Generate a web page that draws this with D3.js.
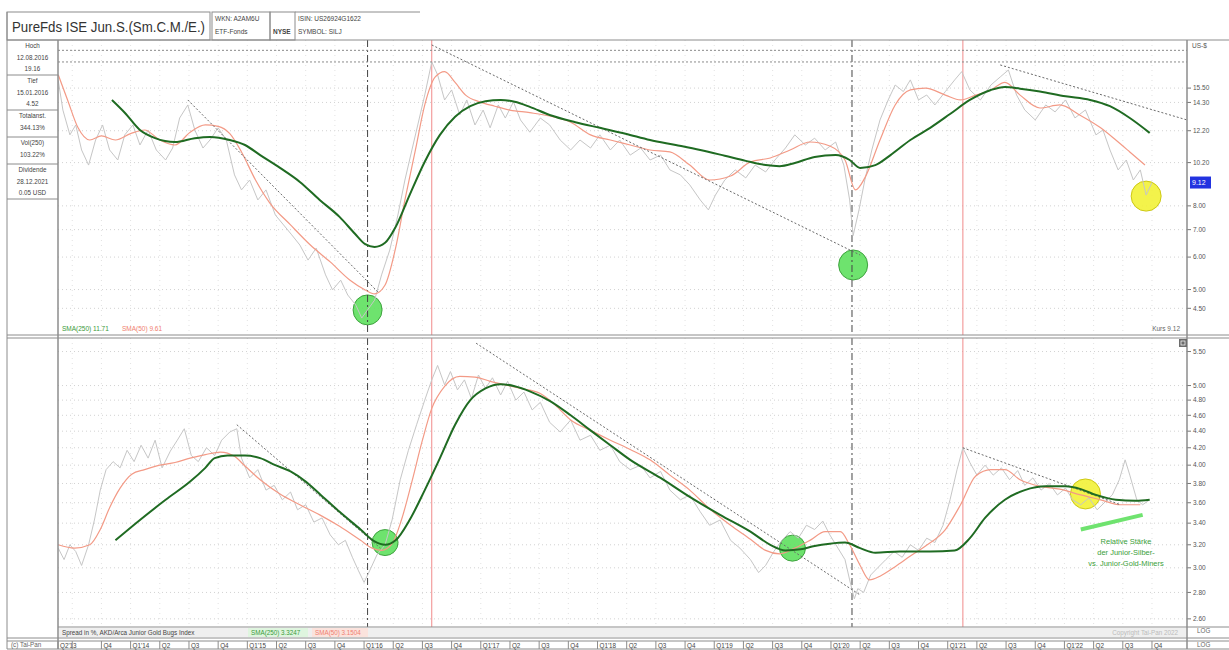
<!DOCTYPE html>
<html>
<head>
<meta charset="utf-8">
<script src="https://cdn.jsdelivr.net/npm/d3@7"></script>
<style>
  body { margin: 0; background: #fff; }
  svg text { font-family: "Liberation Sans", Arial, sans-serif; }
</style>
</head>
<body>
<svg id="chart" width="1229" height="650"></svg>
<script>
// ---- data (time as decimal year, values in US-$ / ratio) ----
const kursOben = [[2013.38,16.2],[2013.42,13.7],[2013.48,11.92],[2013.53,12.6],[2013.58,10.95],[2013.64,10.06],[2013.70,11.58],[2013.76,12.6],[2013.82,10.95],[2013.89,10.35],[2013.95,11.92],[2014.02,12.6],[2014.08,11.26],[2014.15,12.25],[2014.22,10.95],[2014.30,10.35],[2014.36,11.07],[2014.42,13.1],[2014.49,14.1],[2014.55,12.25],[2014.62,11.07],[2014.68,11.58],[2014.75,12.4],[2014.82,11.58],[2014.89,9.52],[2014.95,8.75],[2015.02,9.25],[2015.09,8.27],[2015.16,8.75],[2015.24,7.6],[2015.31,7.19],[2015.38,6.8],[2015.45,6.42],[2015.52,5.9],[2015.59,6.31],[2015.67,5.43],[2015.73,4.99],[2015.80,5.27],[2015.86,4.85],[2015.93,4.58],[2015.98,4.26],[2016.03,4.46],[2016.09,4.71],[2016.15,5.43],[2016.22,6.24],[2016.29,7.6],[2016.35,9.25],[2016.41,10.95],[2016.46,12.6],[2016.52,14.91],[2016.58,17.95],[2016.63,16.7],[2016.69,14.5],[2016.75,15.34],[2016.82,13.33],[2016.88,14.5],[2016.95,12.6],[2017.02,13.7],[2017.08,12.4],[2017.15,14.1],[2017.21,13.1],[2017.28,14.35],[2017.34,12.96],[2017.42,12.1],[2017.51,13.1],[2017.59,12.6],[2017.68,11.58],[2017.77,10.95],[2017.85,11.58],[2017.94,11.07],[2018.02,11.92],[2018.11,10.95],[2018.19,11.58],[2018.28,10.64],[2018.37,11.07],[2018.45,10.35],[2018.54,10.64],[2018.62,9.79],[2018.71,9.52],[2018.79,9.0],[2018.88,8.27],[2018.95,7.82],[2019.01,8.5],[2019.09,9.25],[2019.18,9.79],[2019.27,9.36],[2019.35,10.06],[2019.44,9.68],[2019.52,10.35],[2019.61,11.07],[2019.69,11.92],[2019.78,11.26],[2019.86,11.7],[2019.95,10.95],[2020.04,11.45],[2020.11,10.06],[2020.16,8.27],[2020.19,6.77],[2020.24,7.82],[2020.29,9.25],[2020.35,10.95],[2020.42,12.96],[2020.49,14.5],[2020.55,15.77],[2020.62,15.2],[2020.68,16.23],[2020.75,14.5],[2020.82,14.91],[2020.89,14.1],[2020.98,15.2],[2021.06,16.23],[2021.12,17.0],[2021.19,15.34],[2021.28,14.5],[2021.37,15.77],[2021.45,16.5],[2021.52,17.16],[2021.59,14.91],[2021.66,13.71],[2021.75,12.96],[2021.84,14.1],[2021.92,13.56],[2022.01,14.5],[2022.09,13.11],[2022.18,13.71],[2022.27,11.92],[2022.33,12.25],[2022.39,10.95],[2022.46,9.79],[2022.53,10.35],[2022.59,9.25],[2022.65,9.79],[2022.70,8.5],[2022.75,9.12]];

const sma50Oben = [[2013.38,16.7],[2013.46,14.5],[2013.55,12.4],[2013.65,11.58],[2013.75,11.85],[2013.87,11.58],[2014.00,12.0],[2014.12,12.25],[2014.25,11.58],[2014.38,11.26],[2014.51,12.1],[2014.64,12.6],[2014.75,12.5],[2014.85,12.0],[2014.95,10.83],[2015.07,9.25],[2015.19,8.15],[2015.37,7.19],[2015.54,6.42],[2015.71,5.84],[2015.88,5.27],[2016.01,4.99],[2016.09,4.88],[2016.18,5.13],[2016.27,6.31],[2016.35,8.27],[2016.44,10.95],[2016.52,14.1],[2016.61,16.5],[2016.69,17.0],[2016.78,16.0],[2016.87,14.9],[2016.99,14.35],[2017.12,14.0],[2017.25,13.7],[2017.42,13.5],[2017.59,13.25],[2017.77,12.8],[2017.94,11.92],[2018.11,11.58],[2018.28,11.26],[2018.45,10.95],[2018.62,10.83],[2018.79,10.06],[2018.96,9.25],[2019.14,9.46],[2019.31,10.24],[2019.48,10.47],[2019.65,10.95],[2019.82,11.45],[2019.99,11.2],[2020.12,10.35],[2020.21,8.75],[2020.29,9.36],[2020.42,11.58],[2020.55,14.1],[2020.68,15.34],[2020.81,15.5],[2020.98,14.9],[2021.11,14.5],[2021.24,14.9],[2021.37,15.34],[2021.49,16.0],[2021.62,14.9],[2021.79,13.86],[2021.96,14.1],[2022.13,13.33],[2022.31,12.4],[2022.44,11.58],[2022.56,10.83],[2022.69,10.06]];

const sma250Oben = [[2013.84,14.5],[2013.95,13.5],[2014.08,12.25],[2014.21,11.7],[2014.38,11.45],[2014.55,11.7],[2014.68,11.78],[2014.85,11.58],[2014.98,11.26],[2015.11,10.64],[2015.28,9.9],[2015.45,9.15],[2015.62,8.27],[2015.79,7.52],[2015.92,6.85],[2016.01,6.45],[2016.09,6.35],[2016.18,6.5],[2016.27,7.1],[2016.39,8.5],[2016.52,10.25],[2016.65,11.92],[2016.78,13.2],[2016.91,14.0],[2017.04,14.4],[2017.17,14.5],[2017.29,14.35],[2017.42,13.95],[2017.59,13.33],[2017.81,12.8],[2018.02,12.4],[2018.24,12.0],[2018.45,11.58],[2018.67,11.26],[2018.88,10.95],[2019.09,10.6],[2019.27,10.3],[2019.44,10.06],[2019.56,10.0],[2019.69,10.18],[2019.86,10.53],[2020.04,10.64],[2020.16,10.35],[2020.25,9.9],[2020.38,10.06],[2020.51,10.64],[2020.68,11.58],[2020.85,12.4],[2021.02,13.4],[2021.19,14.5],[2021.37,15.34],[2021.49,15.6],[2021.62,15.45],[2021.79,15.2],[2022.01,14.8],[2022.22,14.5],[2022.39,14.0],[2022.56,13.1],[2022.73,12.05]];

const kursUnten = [[2013.38,3.17],[2013.43,3.07],[2013.48,3.20],[2013.53,3.14],[2013.58,3.02],[2013.64,3.20],[2013.69,3.43],[2013.74,3.73],[2013.79,3.95],[2013.85,4.04],[2013.91,3.97],[2013.97,4.17],[2014.03,4.04],[2014.09,4.23],[2014.15,4.08],[2014.21,4.29],[2014.27,3.97],[2014.34,4.16],[2014.40,4.29],[2014.46,4.43],[2014.52,4.11],[2014.58,4.04],[2014.65,4.20],[2014.72,4.11],[2014.78,4.29],[2014.85,4.39],[2014.91,4.43],[2014.95,4.08],[2015.02,3.86],[2015.09,3.95],[2015.16,3.73],[2015.23,3.78],[2015.30,3.63],[2015.37,3.71],[2015.43,3.53],[2015.50,3.58],[2015.57,3.41],[2015.64,3.45],[2015.71,3.29],[2015.78,3.20],[2015.84,3.24],[2015.90,3.09],[2015.95,2.98],[2016.00,2.88],[2016.05,2.98],[2016.11,3.11],[2016.18,3.20],[2016.24,3.43],[2016.31,3.84],[2016.38,4.17],[2016.45,4.48],[2016.52,4.80],[2016.58,5.08],[2016.63,5.29],[2016.69,5.01],[2016.74,5.20],[2016.80,4.94],[2016.86,5.08],[2016.92,4.82],[2016.98,5.15],[2017.04,4.96],[2017.10,5.11],[2017.17,4.87],[2017.23,5.06],[2017.30,4.80],[2017.37,4.91],[2017.44,4.67],[2017.51,4.77],[2017.59,4.51],[2017.68,4.39],[2017.77,4.54],[2017.85,4.29],[2017.94,4.35],[2018.02,4.17],[2018.11,4.23],[2018.19,4.04],[2018.28,3.95],[2018.37,4.00],[2018.45,3.86],[2018.54,3.93],[2018.62,3.73],[2018.71,3.63],[2018.79,3.68],[2018.88,3.51],[2018.96,3.38],[2019.05,3.43],[2019.14,3.24],[2019.22,3.17],[2019.31,3.07],[2019.38,2.96],[2019.44,3.02],[2019.51,3.14],[2019.58,3.24],[2019.65,3.32],[2019.72,3.26],[2019.79,3.38],[2019.86,3.34],[2019.93,3.42],[2019.99,3.29],[2020.06,3.17],[2020.12,3.07],[2020.16,2.90],[2020.20,2.75],[2020.23,2.83],[2020.28,2.80],[2020.34,2.94],[2020.40,3.00],[2020.47,3.07],[2020.54,3.14],[2020.61,3.09],[2020.68,3.20],[2020.75,3.15],[2020.82,3.26],[2020.89,3.22],[2020.96,3.38],[2021.02,3.63],[2021.08,3.95],[2021.13,4.20],[2021.19,4.03],[2021.25,3.89],[2021.32,4.00],[2021.39,3.89],[2021.46,3.97],[2021.53,3.84],[2021.60,3.94],[2021.66,3.78],[2021.73,3.86],[2021.80,3.73],[2021.87,3.80],[2021.94,3.68],[2022.01,3.75],[2022.07,3.63],[2022.14,3.58],[2022.21,3.65],[2022.28,3.53],[2022.35,3.61],[2022.41,3.68],[2022.47,3.84],[2022.52,4.06],[2022.56,3.89],[2022.62,3.63],[2022.67,3.58],[2022.73,3.63]];

const sma50Unten = [[2013.38,3.20],[2013.52,3.17],[2013.65,3.20],[2013.74,3.34],[2013.82,3.55],[2013.91,3.75],[2014.01,3.90],[2014.12,3.95],[2014.25,4.00],[2014.38,4.03],[2014.51,4.08],[2014.64,4.12],[2014.77,4.15],[2014.89,4.10],[2014.98,3.99],[2015.11,3.84],[2015.28,3.69],[2015.45,3.58],[2015.62,3.48],[2015.79,3.37],[2015.97,3.24],[2016.07,3.17],[2016.15,3.15],[2016.24,3.21],[2016.32,3.43],[2016.41,3.82],[2016.50,4.29],[2016.58,4.69],[2016.69,4.99],[2016.82,5.13],[2016.95,5.12],[2017.08,5.06],[2017.21,5.01],[2017.34,4.96],[2017.51,4.89],[2017.64,4.73],[2017.77,4.54],[2017.94,4.41],[2018.11,4.29],[2018.28,4.18],[2018.45,4.06],[2018.62,3.89],[2018.79,3.73],[2018.96,3.54],[2019.14,3.38],[2019.31,3.25],[2019.44,3.15],[2019.56,3.12],[2019.69,3.17],[2019.82,3.24],[2019.95,3.32],[2020.08,3.32],[2020.16,3.20],[2020.25,3.02],[2020.33,2.90],[2020.42,2.93],[2020.55,3.01],[2020.68,3.10],[2020.81,3.19],[2020.98,3.34],[2021.11,3.58],[2021.24,3.88],[2021.37,3.95],[2021.49,3.95],[2021.62,3.84],[2021.79,3.77],[2021.96,3.74],[2022.14,3.68],[2022.31,3.63],[2022.48,3.58],[2022.65,3.58]];

const sma250Unten = [[2013.87,3.24],[2014.08,3.43],[2014.30,3.63],[2014.51,3.82],[2014.64,3.97],[2014.72,4.08],[2014.83,4.11],[2014.98,4.11],[2015.11,4.08],[2015.24,4.00],[2015.37,3.93],[2015.50,3.82],[2015.62,3.69],[2015.79,3.51],[2015.97,3.34],[2016.09,3.23],[2016.18,3.20],[2016.27,3.24],[2016.39,3.43],[2016.52,3.73],[2016.65,4.08],[2016.78,4.48],[2016.91,4.80],[2017.04,4.96],[2017.17,5.02],[2017.29,4.99],[2017.42,4.92],[2017.59,4.79],[2017.77,4.60],[2017.94,4.41],[2018.11,4.23],[2018.28,4.06],[2018.54,3.86],[2018.79,3.66],[2019.05,3.48],[2019.31,3.32],[2019.48,3.20],[2019.61,3.15],[2019.74,3.16],[2019.86,3.19],[2019.99,3.21],[2020.12,3.22],[2020.25,3.17],[2020.38,3.13],[2020.59,3.14],[2020.85,3.14],[2021.06,3.15],[2021.19,3.26],[2021.32,3.45],[2021.49,3.63],[2021.66,3.73],[2021.84,3.77],[2022.01,3.77],[2022.14,3.74],[2022.27,3.68],[2022.44,3.63],[2022.61,3.62],[2022.73,3.63]];

const trendOben = [[[2014.49,14.5],[2016.12,4.93]], [[2016.58,19.75],[2020.25,6.07]], [[2021.45,17.65],[2023.05,12.96]]];
const trendUnten = [[[2014.91,4.48],[2016.14,3.17]], [[2016.96,5.63],[2020.25,2.78]], [[2021.13,4.20],[2022.48,3.58]]];
const rsLinie = [[2022.14,3.34],[2022.67,3.48]];

const kreiseOben = [[2016.03,4.46,"g"],[2020.19,5.74,"g"],[2022.70,8.45,"y"]];
const kreiseUnten = [[2016.18,3.22,"g"],[2019.67,3.17,"g"],[2022.18,3.69,"y"]];

const markerSchwarz = [2016.03, 2020.18];
const markerRot = [2016.58, 2021.13];

const ticksOben = [15.5, 14.3, 12.2, 10.2, 8, 7, 6, 5, 4.5];
const ticksUnten = [5.5, 5, 4.8, 4.6, 4.4, 4.2, 4, 3.8, 3.6, 3.4, 3.2, 3, 2.8, 2.6];

const hoch = 19.16;
const infoBoxen = [
  ["Hoch", "12.08.2016", "19.16"],
  ["Tief", "15.01.2016", "4.52"],
  ["Totalanst.", "344.13%"],
  ["Vol(250)", "103.22%"],
  ["Dividende", "28.12.2021", "0.05 USD"]
];

// ---- layout ----
const L = 58, R = 1187;
const svg = d3.select("#chart");

const x = d3.scaleLinear().domain([2013.378, 2023.05]).range([L, R]);
const yTop = d3.scaleLog().domain([3.9, 20]).range([333.8, 42.7]);
const yBot = d3.scaleLog().domain([2.55, 5.7]).range([625.8, 338.8]);

const panels = [
  {id: "oben", y: yTop, top: 40, bottom: 335, ticks: ticksOben, kurs: kursOben, s50: sma50Oben, s250: sma250Oben, trends: trendOben, kreise: kreiseOben},
  {id: "unten", y: yBot, top: 338, bottom: 627, ticks: ticksUnten, kurs: kursUnten, s50: sma50Unten, s250: sma250Unten, trends: trendUnten, kreise: kreiseUnten}
];

const defs = svg.append("defs");
const quarterT = [];
for (let yr = 2013; yr <= 2022; yr++) for (let q = 0; q < 4; q++) {
  const t = yr + q / 4;
  if (t >= 2013.25 && t <= 2022.76) quarterT.push({t, yr, q});
}

panels.forEach(p => {
  defs.append("clipPath").attr("id", "clip-" + p.id)
    .append("rect").attr("x", L).attr("y", p.top).attr("width", R - L).attr("height", p.bottom - p.top);

  const g = svg.append("g").attr("clip-path", `url(#clip-${p.id})`);

  // dotted grid
  g.selectAll(".gh").data(p.ticks).join("line")
    .attr("x1", L).attr("x2", R).attr("y1", d => p.y(d)).attr("y2", d => p.y(d))
    .attr("stroke", "#d2d2d2").attr("stroke-dasharray", "1,3");
  g.selectAll(".gv").data(quarterT.filter(d => d.t > x.domain()[0])).join("line")
    .attr("x1", d => x(d.t)).attr("x2", d => x(d.t)).attr("y1", p.top).attr("y2", p.bottom)
    .attr("stroke", "#e2e2e2").attr("stroke-dasharray", "1,4");

  // circles
  g.selectAll(".kreis").data(p.kreise).join("ellipse")
    .attr("cx", d => x(d[0])).attr("cy", d => p.y(d[1]))
    .attr("rx", d => d[2] === "y" ? 15 : (p.id === "oben" ? 14.5 : 13))
    .attr("ry", d => d[2] === "y" ? 15 : (p.id === "oben" ? 15 : 13))
    .attr("fill", d => d[2] === "y" ? "#f3f23c" : "#62e162")
    .attr("stroke", d => d[2] === "y" ? "#c9c400" : "#2f9b2f")
    .attr("opacity", 0.92);

  // marker verticals
  g.selectAll(".ms").data(markerSchwarz).join("line")
    .attr("x1", d => x(d)).attr("x2", d => x(d)).attr("y1", p.top).attr("y2", p.bottom)
    .attr("stroke", "#444").attr("stroke-dasharray", "7,3,2,3");
  g.selectAll(".mr").data(markerRot).join("line")
    .attr("x1", d => x(d)).attr("x2", d => x(d)).attr("y1", p.top).attr("y2", p.bottom)
    .attr("stroke", "#f08a8a");

  const line = d3.line().x(d => x(d[0])).y(d => p.y(d[1]));
  const smooth = d3.line().x(d => x(d[0])).y(d => p.y(d[1])).curve(d3.curveMonotoneX);

  g.append("path").attr("d", line(p.kurs)).attr("fill", "none").attr("stroke", "#c6c6c6").attr("stroke-width", 1);
  g.append("path").attr("d", smooth(p.s50)).attr("fill", "none").attr("stroke", "#f39a86").attr("stroke-width", 1.2);

  // trend lines
  g.selectAll(".tr").data(p.trends).join("path")
    .attr("d", d => line(d)).attr("fill", "none")
    .attr("stroke", "#6a6a6a").attr("stroke-dasharray", "2,2");

  g.append("path").attr("d", smooth(p.s250)).attr("fill", "none").attr("stroke", "#1f6b22").attr("stroke-width", 2);

  // right axis
  svg.selectAll(".tk-" + p.id).data(p.ticks).join("line")
    .attr("x1", R).attr("x2", R + 4).attr("y1", d => p.y(d)).attr("y2", d => p.y(d))
    .attr("stroke", "#777");
  svg.selectAll(".tl-" + p.id).data(p.ticks).join("text")
    .attr("x", R + 6).attr("y", d => p.y(d)).attr("dy", "0.35em")
    .attr("font-size", 6.5).attr("fill", "#555")
    .text(d => d.toFixed(2));
});

// high lines (upper panel)
const gTop = svg.append("g").attr("clip-path", "url(#clip-oben)");
[hoch, d3.max(kursOben, d => d[1])].forEach(v => {
  gTop.append("line").attr("x1", L).attr("x2", R).attr("y1", yTop(v)).attr("y2", yTop(v))
    .attr("stroke", "#8a8a8a").attr("stroke-dasharray", "2,2");
});

// relative strength line + note
svg.append("path").attr("d", d3.line().x(d => x(d[0])).y(d => yBot(d[1]))(rsLinie))
  .attr("stroke", "#5fe05f").attr("stroke-width", 4).attr("fill", "none").attr("opacity", 0.9);
const note = svg.append("text").attr("font-size", 7.5).attr("fill", "#3aa03a").attr("text-anchor", "middle");
["Relative Stärke", "der Junior-Silber-", "vs. Junior-Gold-Miners"].forEach((s, i) => {
  note.append("tspan").attr("x", 1126).attr("y", 544 + i * 11).text(s);
});

// current price box
const last = kursOben[kursOben.length - 1];
svg.append("rect").attr("x", R + 3).attr("y", yTop(last[1]) - 6).attr("width", 21).attr("height", 12).attr("fill", "#2233e0");
svg.append("text").attr("x", R + 5).attr("y", yTop(last[1])).attr("dy", "0.35em")
  .attr("font-size", 7).attr("fill", "#fff").text(last[1].toFixed(2));
svg.append("text").attr("x", R + 5).attr("y", 48).attr("font-size", 6.5).attr("fill", "#555").text("US-$");

// ---- frame ----
const fr = svg.append("g").attr("stroke", "#8c8c8c").attr("fill", "none");
fr.append("line").attr("x1", 7).attr("x2", 1229).attr("y1", 40).attr("y2", 40);
fr.append("line").attr("x1", 7).attr("x2", 1229).attr("y1", 335).attr("y2", 335);
fr.append("line").attr("x1", 7).attr("x2", 1229).attr("y1", 338).attr("y2", 338);
fr.append("line").attr("x1", L).attr("x2", 1229).attr("y1", 627).attr("y2", 627);
fr.append("line").attr("x1", 7).attr("x2", 1229).attr("y1", 638).attr("y2", 638);
fr.append("line").attr("x1", 7).attr("x2", 1229).attr("y1", 641).attr("y2", 641);
fr.append("line").attr("x1", 7).attr("x2", 1229).attr("y1", 649).attr("y2", 649);
fr.append("line").attr("x1", 7).attr("x2", 7).attr("y1", 12).attr("y2", 649);
fr.append("line").attr("x1", L).attr("x2", L).attr("y1", 40).attr("y2", 649).attr("stroke-width", 1.5);
fr.append("line").attr("x1", R).attr("x2", R).attr("y1", 40).attr("y2", 649).attr("stroke-width", 1.5);

// header
fr.append("rect").attr("x", 7).attr("y", 12).attr("width", 203).attr("height", 28);
fr.append("rect").attr("x", 212).attr("y", 12).attr("width", 58).attr("height", 28);
fr.append("rect").attr("x", 270).attr("y", 12).attr("width", 25).attr("height", 28);
fr.append("line").attr("x1", 295).attr("x2", 420).attr("y1", 12).attr("y2", 12);
svg.append("text").attr("x", 12).attr("y", 32).attr("font-size", 14).attr("fill", "#333")
  .attr("textLength", 193).attr("lengthAdjust", "spacingAndGlyphs").text("PureFds ISE Jun.S.(Sm.C.M./E.)");
const small = (t, xx, yy, opts = {}) => svg.append("text").attr("x", xx).attr("y", yy)
  .attr("font-size", opts.size || 6.5).attr("fill", opts.fill || "#444")
  .attr("text-anchor", opts.anchor || "start").attr("font-weight", opts.bold ? "bold" : null).text(t);
small("WKN: A2AM6U", 215, 21);
small("ETF-Fonds", 215, 34);
small("NYSE", 273, 34, {bold: true});
small("ISIN: US26924G1622", 298, 21);
small("SYMBOL: SILJ", 298, 34);

// left info panel
let yy = 40;
const zeilenH = [12, 11.5, 11.5];
infoBoxen.forEach(box => {
  const h = box.length === 3 ? 35 : 27;
  box.forEach((s, i) => small(s, 32.5, yy + 8 + i * 11.5, {anchor: "middle", size: 6.3}));
  yy += h;
  fr.append("line").attr("x1", 7).attr("x2", L).attr("y1", yy).attr("y2", yy);
});

// legends
small("SMA(250) 11.71", 62, 331, {fill: "#3a9a3a"});
small("SMA(50) 9.61", 122, 331, {fill: "#f08070"});
small("Kurs " + last[1].toFixed(2), 1180, 331, {anchor: "end", fill: "#666"});

svg.append("rect").attr("x", L + 1).attr("y", 628).attr("width", R - L - 2).attr("height", 9).attr("fill", "#efefef");
svg.append("rect").attr("x", 248).attr("y", 628).attr("width", 60).attr("height", 9).attr("fill", "#dff5df");
svg.append("rect").attr("x", 312).attr("y", 628).attr("width", 56).attr("height", 9).attr("fill", "#fbe3dd");
small("Spread in %, AKD/Arca Junior Gold Bugs Index", 62, 635, {size: 6.3});
small("SMA(250) 3.3247", 251, 635, {size: 6.3, fill: "#3a9a3a"});
small("SMA(50) 3.1504", 315, 635, {size: 6.3, fill: "#f08070"});
small("Copyright Tai-Pan 2022", 1178, 635, {size: 6.3, fill: "#bbb", anchor: "end"});

small("LOG", R + 10, 633, {size: 6.3, fill: "#666"});
small("LOG", R + 10, 647, {size: 6.3, fill: "#666"});
small("(c) Tai-Pan", 11, 647, {size: 6.3, fill: "#666"});

// small icon at lower panel corner
svg.append("rect").attr("x", 1179).attr("y", 339).attr("width", 8).attr("height", 8).attr("fill", "#6d6d6d");
svg.append("rect").attr("x", 1181).attr("y", 341).attr("width", 4).attr("height", 4).attr("fill", "none").attr("stroke", "#fff").attr("stroke-width", 0.7);

// bottom time axis (quarters)
let lastLab = -100;
quarterT.forEach((d, i) => {
  const xp = Math.max(x(d.t), L);
  svg.append("line").attr("x1", xp).attr("x2", xp).attr("y1", 641).attr("y2", 649).attr("stroke", "#8c8c8c");
  if (xp - lastLab < 24) return;
  const lab = (d.q === 0 || i === 0) ? `Q${d.q + 1}'${String(d.yr).slice(2)}` : `Q${d.q + 1}`;
  small(lab, xp + 2, 647.5, {size: 6.3});
  lastLab = xp;
});
</script>
</body>
</html>
